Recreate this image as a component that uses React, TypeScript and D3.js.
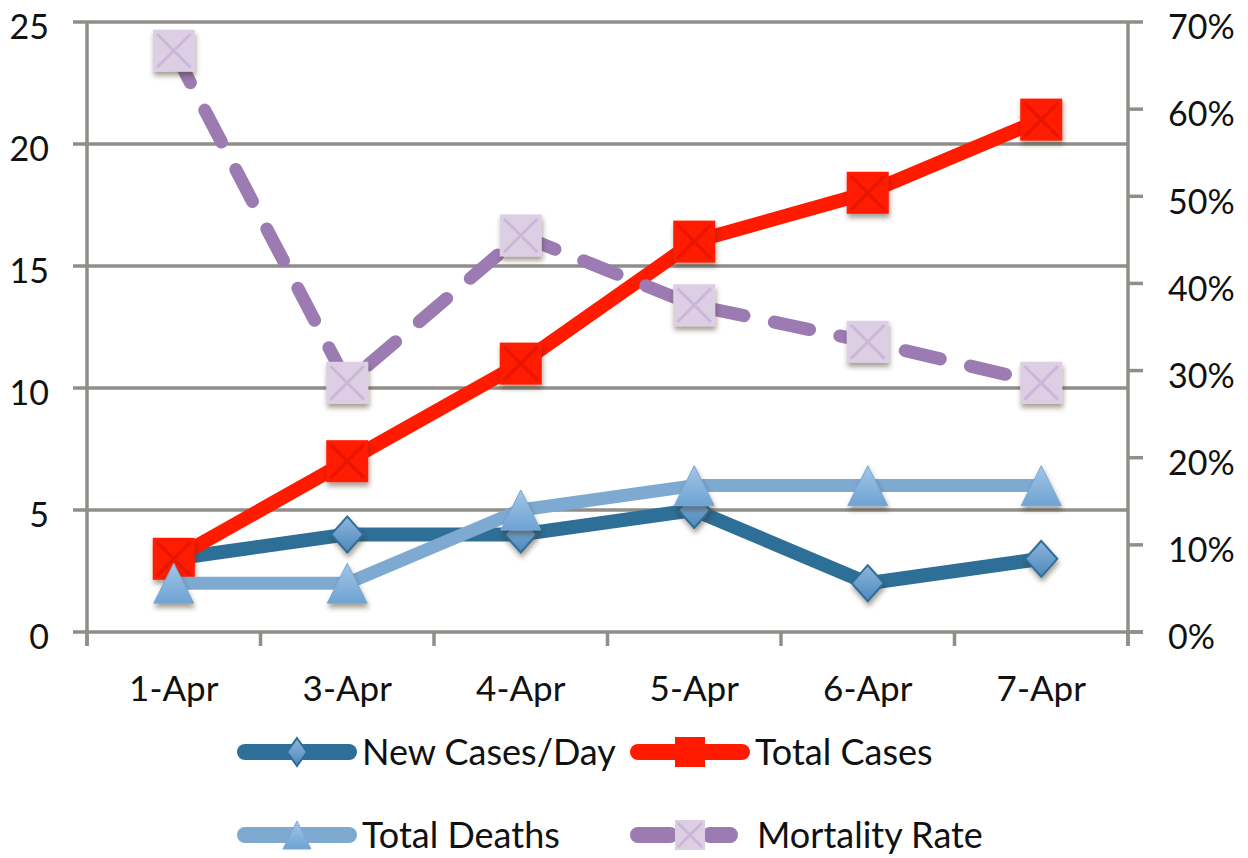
import React, { useRef, useEffect } from 'react';
import * as d3 from 'd3';

const categories = ['1-Apr', '3-Apr', '4-Apr', '5-Apr', '6-Apr', '7-Apr'];
const newCases = [3, 4, 4, 5, 2, 3];
const totalCases = [3, 7, 11, 16, 18, 21];
const totalDeaths = [2, 2, 5, 6, 6, 6];
const mortalityRate = [0.667, 0.286, 0.455, 0.375, 0.333, 0.286];
const leftTicks = [0, 5, 10, 15, 20, 25];
const rightTicks = [0, 0.1, 0.2, 0.3, 0.4, 0.5, 0.6, 0.7];

const gridColor = '#8f8e89';
const font = 'Lato, "Open Sans", sans-serif';

const App = () => {
  const svgRef = useRef<SVGSVGElement>(null);

  useEffect(() => {
    const width = 1248;
    const height = 858;
    const left = 87, right = 1128, top = 22, bottom = 632;

    const svg = d3.select(svgRef.current);
    svg.selectAll('*').remove();

    const defs = svg.append('defs');
    const shadow = defs.append('filter').attr('id', 'shadow')
      .attr('x', '-50%').attr('y', '-50%').attr('width', '200%').attr('height', '200%');
    shadow.append('feDropShadow').attr('dx', 1).attr('dy', 4).attr('stdDeviation', 2.5)
      .attr('flood-color', '#3a2a1a').attr('flood-opacity', 0.45);

    const diamondGrad = defs.append('linearGradient').attr('id', 'diamondGrad')
      .attr('x1', 0).attr('y1', 0).attr('x2', 0).attr('y2', 1);
    diamondGrad.append('stop').attr('offset', '0%').attr('stop-color', '#8db6dc');
    diamondGrad.append('stop').attr('offset', '100%').attr('stop-color', '#4d88bd');
    const triGrad = defs.append('linearGradient').attr('id', 'triGrad')
      .attr('x1', 0).attr('y1', 0).attr('x2', 0).attr('y2', 1);
    triGrad.append('stop').attr('offset', '0%').attr('stop-color', '#a3c6e6');
    triGrad.append('stop').attr('offset', '100%').attr('stop-color', '#6ea3d4');

    const x = d3.scaleBand().domain(categories).range([left, right]);
    const yL = d3.scaleLinear().domain([0, 25]).range([bottom, top]);
    const yR = d3.scaleLinear().domain([0, 0.7]).range([bottom, top]);
    const cx = (i: number) => (x(categories[i]) as number) + x.bandwidth() / 2;

    // gridlines
    svg.append('g').selectAll('line').data(leftTicks.filter(t => t > 0)).enter()
      .append('line')
      .attr('x1', left - 14).attr('x2', right)
      .attr('y1', d => yL(d)).attr('y2', d => yL(d))
      .attr('stroke', gridColor).attr('stroke-width', 3.5);

    // axes lines
    const ax = svg.append('g').attr('stroke', gridColor).attr('stroke-width', 3.5);
    ax.append('line').attr('x1', left).attr('x2', left).attr('y1', top).attr('y2', bottom + 14);
    ax.append('line').attr('x1', right).attr('x2', right).attr('y1', top).attr('y2', bottom + 14);
    ax.append('line').attr('x1', left - 14).attr('x2', right + 15).attr('y1', bottom).attr('y2', bottom);
    ax.selectAll('line.rt').data(rightTicks).enter().append('line')
      .attr('x1', right).attr('x2', right + 15)
      .attr('y1', d => yR(d)).attr('y2', d => yR(d));
    ax.selectAll('line.bt').data(d3.range(categories.length + 1)).enter().append('line')
      .attr('x1', d => left + d * x.bandwidth()).attr('x2', d => left + d * x.bandwidth())
      .attr('y1', bottom).attr('y2', bottom + 14);

    // tick labels
    svg.append('g').selectAll('text').data(leftTicks).enter().append('text')
      .attr('x', 49).attr('y', d => yL(d) + 5).attr('dy', '0.36em')
      .attr('text-anchor', 'end').style('font-family', font).style('font-size', '34px')
      .attr('fill', '#111').text(d => d);
    svg.append('g').selectAll('text').data(rightTicks).enter().append('text')
      .attr('x', 1168).attr('y', d => yR(d) + 5).attr('dy', '0.36em')
      .style('font-family', font).style('font-size', '34px')
      .attr('fill', '#111').text(d => d3.format('.0%')(d));
    svg.append('g').selectAll('text').data(categories).enter().append('text')
      .attr('x', d => (x(d) as number) + x.bandwidth() / 2).attr('y', 688).attr('dy', '0.36em')
      .attr('text-anchor', 'middle').style('font-family', font).style('font-size', '35px')
      .attr('fill', '#111').text(d => d);

    const lineL = d3.line<number>().x((_, i) => cx(i)).y(d => yL(d));
    const lineR = d3.line<number>().x((_, i) => cx(i)).y(d => yR(d));

    const diamond = (g: any, w: number, h: number) => g.append('path')
      .attr('d', `M0,${-h}L${w},0L0,${h}L${-w},0Z`)
      .attr('fill', 'url(#diamondGrad)').attr('stroke', '#2f6d98').attr('stroke-width', 2);
    const square = (g: any, s: number, fill: string, xColor: string) => {
      g.append('rect').attr('x', -s).attr('y', -s).attr('width', 2 * s).attr('height', 2 * s)
        .attr('fill', fill);
      g.append('path').attr('d', `M${-s * 0.8},${-s * 0.8}L${s * 0.8},${s * 0.8}M${s * 0.8},${-s * 0.8}L${-s * 0.8},${s * 0.8}`)
        .attr('stroke', xColor).attr('stroke-width', 3).attr('fill', 'none');
    };
    const triangle = (g: any, s: number) => g.append('path')
      .attr('d', `M0,${-s}L${s},${s}L${-s},${s}Z`)
      .attr('fill', 'url(#triGrad)').attr('stroke', '#7aa8d3').attr('stroke-width', 1);

    // New Cases/Day
    svg.append('path').attr('d', lineL(newCases)).attr('fill', 'none')
      .attr('stroke', '#2e6f97').attr('stroke-width', 14).attr('stroke-linejoin', 'round');
    newCases.forEach((v, i) => {
      const g = svg.append('g').attr('transform', `translate(${cx(i)},${yL(v)})`).attr('filter', 'url(#shadow)');
      diamond(g, 16, 18);
    });

    // Total Cases
    svg.append('path').attr('d', lineL(totalCases)).attr('fill', 'none')
      .attr('stroke', '#ff1a00').attr('stroke-width', 14).attr('stroke-linejoin', 'round');
    totalCases.forEach((v, i) => {
      const g = svg.append('g').attr('transform', `translate(${cx(i)},${yL(v)})`).attr('filter', 'url(#shadow)');
      square(g, 21, '#ff1a00', '#e81800');
    });

    // Total Deaths
    svg.append('path').attr('d', lineL(totalDeaths)).attr('fill', 'none')
      .attr('stroke', '#7ea9d1').attr('stroke-width', 13).attr('stroke-linejoin', 'round');
    totalDeaths.forEach((v, i) => {
      const g = svg.append('g').attr('transform', `translate(${cx(i)},${yL(v)})`).attr('filter', 'url(#shadow)');
      triangle(g, 20);
    });

    // Mortality Rate
    svg.append('path').attr('d', lineR(mortalityRate)).attr('fill', 'none')
      .attr('stroke', '#9b7bb2').attr('stroke-width', 13).attr('stroke-linecap', 'round')
      .attr('stroke-dasharray', '36 31');
    mortalityRate.forEach((v, i) => {
      const g = svg.append('g').attr('transform', `translate(${cx(i)},${yR(v)})`).attr('filter', 'url(#shadow)');
      square(g, 21, '#dccfe4', '#cdb7d9');
    });

    // legend
    const legend = [
      { name: 'New Cases/Day', color: '#2e6f97', x: 237, y: 752, kind: 'diamond' },
      { name: 'Total Cases', color: '#ff1a00', x: 630, y: 752, kind: 'square' },
      { name: 'Total Deaths', color: '#7ea9d1', x: 237, y: 835, kind: 'triangle' },
      { name: 'Mortality Rate', color: '#9b7bb2', x: 630, y: 835, kind: 'mortality' },
    ];
    legend.forEach(d => {
      const g = svg.append('g').attr('transform', `translate(${d.x},${d.y})`);
      if (d.kind === 'mortality') {
        g.append('line').attr('x1', 8).attr('x2', 40).attr('stroke', d.color)
          .attr('stroke-width', 16).attr('stroke-linecap', 'round');
        g.append('line').attr('x1', 80).attr('x2', 100).attr('stroke', d.color)
          .attr('stroke-width', 16).attr('stroke-linecap', 'round');
        const m = g.append('g').attr('transform', 'translate(60,0)');
        square(m, 15, '#dccfe4', '#cdb7d9');
      } else {
        g.append('line').attr('x1', 8).attr('x2', 112).attr('stroke', d.color)
          .attr('stroke-width', 16).attr('stroke-linecap', 'round');
        const m = g.append('g').attr('transform', d.kind === 'square' ? 'translate(60,0)' : 'translate(60,0)');
        if (d.kind === 'diamond') diamond(m, 10, 14);
        if (d.kind === 'square') square(m, 15, '#ff1a00', '#ff1a00');
        if (d.kind === 'triangle') triangle(m, 14);
      }
      g.append('text').attr('x', d.kind === 'mortality' ? 127 : 125).attr('dy', '0.36em')
        .style('font-family', font).style('font-size', '36px').attr('fill', '#111').text(d.name);
    });

    svg.attr('width', width).attr('height', height);
  }, []);

  return (
    <svg ref={svgRef} width={1248} height={858}
      style={{ position: 'absolute', left: 0, top: 0, background: '#fff' }}></svg>
  );
};

export default App;
